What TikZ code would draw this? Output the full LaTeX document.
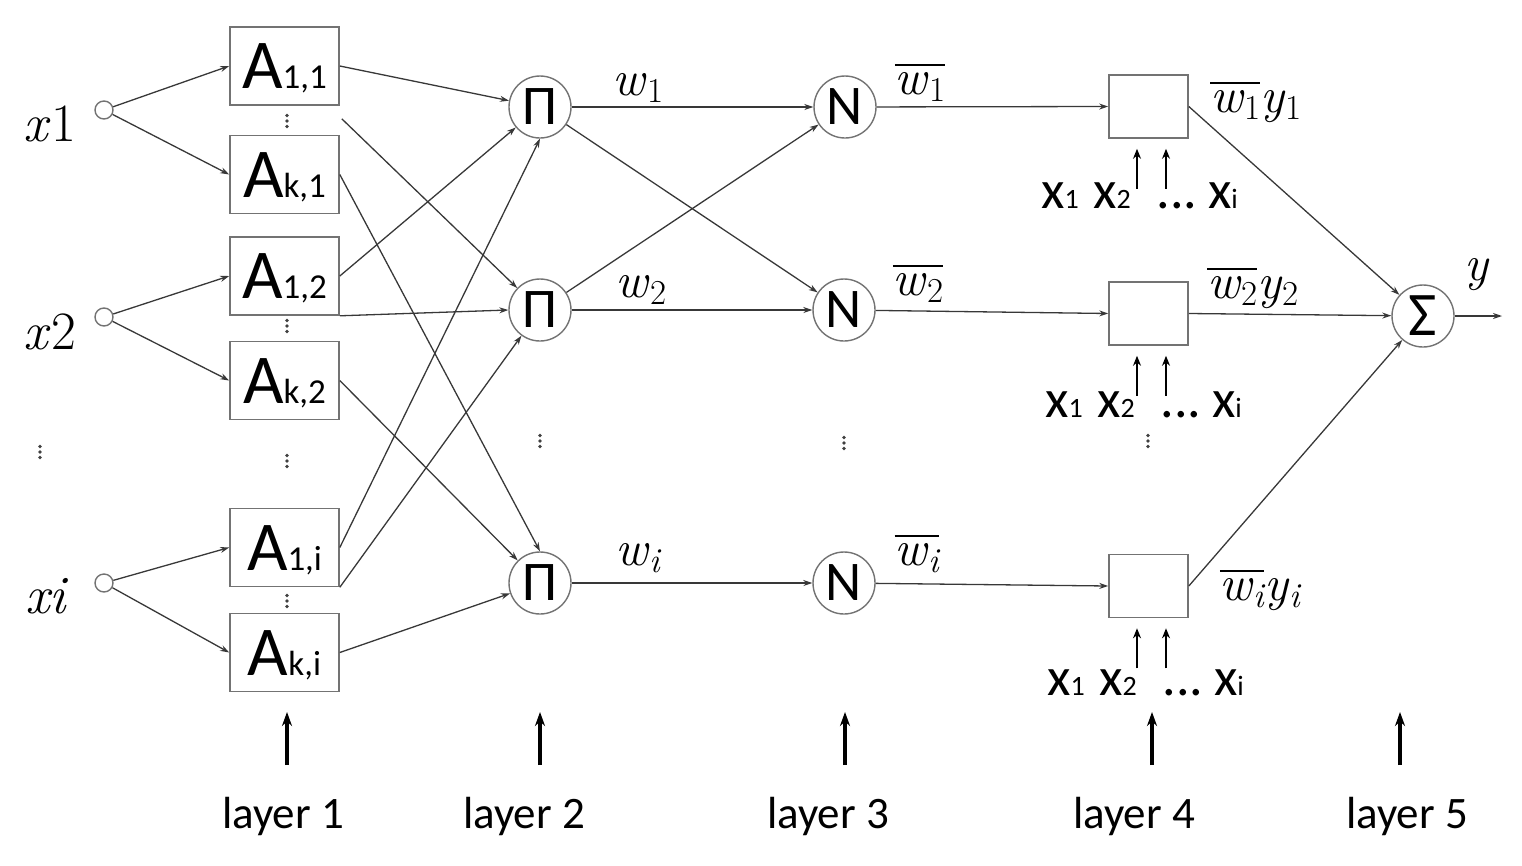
\documentclass[tikz,border=0pt]{standalone}
\usepackage{fontspec}
\newfontfamily\calfont{Carlito}
\usetikzlibrary{arrows.meta,calc}
\newcommand\Asub[1]{A{\fontsize{35}{35}\selectfont #1}}
\newcommand\xsub[1]{x{\fontsize{28}{28}\selectfont #1}}
\newcommand\lsub[1]{\raisebox{-7pt}{\fontsize{35}{35}\selectfont #1}}
\newcommand\ovl[1]{\leavevmode\setbox0\hbox{#1}\rlap{\raisebox{\dimexpr\ht0+6pt\relax}{\rule{\wd0}{2pt}}}\box0}
\begin{document}
\begin{tikzpicture}[x=1pt,y=-1pt,
  conn/.style={draw=black!78, line width=1.3pt, -{Stealth[length=9pt,width=6pt]}},
  abox/.style={draw=black!55, line width=1.6pt, minimum width=109pt, minimum height=78pt,
    inner sep=0pt, text height=45pt, text depth=0pt, font=\calfont\fontsize{70}{70}\selectfont},
  lbox/.style={draw=black!55, line width=1.6pt, minimum width=79pt, minimum height=63pt, inner sep=0pt},
  opnode/.style={circle, draw=black!55, line width=1.4pt, minimum size=62pt, inner sep=0pt,
    text depth=0pt, font=\calfont\fontsize{56}{56}\selectfont},
  incirc/.style={circle, draw=black!55, line width=1.4pt, minimum size=18pt, inner sep=0pt},
  mlab/.style={font=\fontsize{50}{50}\selectfont, inner sep=0pt, anchor=base},
  inlab/.style={font=\fontsize{54}{54}\selectfont, inner sep=0pt, anchor=base},
  xlab/.style={font=\calfont\fontsize{54}{54}\selectfont, inner sep=0pt, anchor=base},
  laylab/.style={font=\calfont\fontsize{45}{45}\selectfont, inner sep=0pt, anchor=base},
  uparr/.style={draw=black, line width=2.8pt, -{Stealth[length=10pt,width=8pt]}},
  layarr/.style={draw=black, line width=3.2pt, -{Stealth[length=14pt,width=10pt]}},
  vdots3/.pic={\fill[black!75] (0,-5.5) circle (1.8pt) (0,0) circle (1.8pt) (0,5.5) circle (1.8pt);}
]
\useasboundingbox (0,0) rectangle (1522,865);

% inputs
\node[incirc] (c1) at (104,110) {};
\node[incirc] (c2) at (104,317) {};
\node[incirc] (ci) at (104,583) {};
\node[inlab] (lx1) at (50,141) {\textit{x}1};
\node[inlab] (lx2) at (50,349) {\textit{x}2};
\node[inlab] (lxi) at (47,613) {\textit{xi}};

% layer 1
\node[abox] (A11) at (284.5,66) {\Asub{1,1}};
\node[abox] (Ak1) at (284.5,174.5) {\Asub{k,1}};
\node[abox] (A12) at (284.5,276) {\Asub{1,2}};
\node[abox] (Ak2) at (284.5,380.5) {\Asub{k,2}};
\node[abox] (A1i) at (284.5,547.5) {\Asub{1,i}};
\node[abox] (Aki) at (284.5,652.5) {\Asub{k,i}};

% layer 2 and 3
\node[opnode] (P1) at (540,107) {Π};
\node[opnode] (P2) at (540,310) {Π};
\node[opnode] (P3) at (540,583) {Π};
\node[opnode] (N1) at (845,107) {N};
\node[opnode] (N2) at (844,310) {N};
\node[opnode] (N3) at (844,583) {N};

% layer 4 and 5
\node[lbox] (B1) at (1148.5,106.5) {};
\node[lbox] (B2) at (1148.5,313.5) {};
\node[lbox] (B3) at (1148.5,586) {};
\node[opnode, font=\calfont\fontsize{62}{62}\selectfont] (S) at (1423,316) {Σ};
\coordinate (yout) at (1502,316);

% dots
\pic at (287,121) {vdots3};
\pic at (287,326) {vdots3};
\pic at (287,601) {vdots3};
\pic at (287,461) {vdots3};
\pic at (40,452) {vdots3};
\pic at (540,441) {vdots3};
\pic at (844,443) {vdots3};
\pic at (1148,441) {vdots3};

% input -> layer 1
\draw[conn] (c1) -- (A11.west);
\draw[conn] (c1) -- (Ak1.west);
\draw[conn] (c2) -- (A12.west);
\draw[conn] (c2) -- (Ak2.west);
\draw[conn] (ci) -- (A1i.west);
\draw[conn] (ci) -- (Aki.west);

% layer 1 -> layer 2
\draw[conn] (A11.east) -- (P1);
\draw[conn] ($(A11.south east)+(2,13)$) -- (P2);
\draw[conn] (Ak1.east) -- (P3.north);
\draw[conn] (A12.east) -- (P1);
\draw[conn] (A12.south east) -- (P2.west);
\draw[conn] (Ak2.east) -- (P3);
\draw[conn] (A1i.east) -- (P1.south);
\draw[conn] (A1i.south east) -- (P2);
\draw[conn] (Aki.east) -- (P3);

% layer 2 -> layer 3
\draw[conn] (P1) -- (N1);
\draw[conn] (P1) -- (N2);
\draw[conn] (P2) -- (N1);
\draw[conn] (P2) -- (N2);
\draw[conn] (P3) -- (N3);

% layer 3 -> layer 4
\draw[conn] (N1) -- (B1.west);
\draw[conn] (N2) -- (B2.west);
\draw[conn] (N3) -- (B3.west);

% layer 4 -> layer 5
\draw[conn] (B1.east) -- (S);
\draw[conn] (B2.east) -- (S);
\draw[conn] (B3.east) -- (S);
\draw[conn] (S) -- (yout);

% math labels
\node[mlab] (w1) at (638,95) {\textit{w}\lsub{1}};
\node[mlab] (w2) at (641,297) {\textit{w}\lsub{2}};
\node[mlab] (wi) at (638,565) {\textit{w}\lsub{\itshape i}};
\node[mlab] (nw1) at (920,94) {\ovl{\textit{w}\lsub{1}}};
\node[mlab] (nw2) at (918,295) {\ovl{\textit{w}\lsub{2}}};
\node[mlab] (nwi) at (917,565) {\ovl{\textit{w}\lsub{\itshape i}}};
\node[mlab] (o1) at (1256,112) {\ovl{\textit{w}\lsub{1}}\textit{y}\lsub{1}};
\node[mlab] (o2) at (1253,298) {\ovl{\textit{w}\lsub{2}}\textit{y}\lsub{2}};
\node[mlab] (oi) at (1260,600) {\ovl{\textit{w}\lsub{\itshape i}}\textit{y}\lsub{\itshape i}};
\node[mlab] (yl) at (1477,280) {\textit{y}};

% x inputs of layer 4
\foreach \r/\b/\yb/\dx in {1/B1/208/-6, 2/B2/417/-2, 3/B3/695/0}{
  \node[xlab] (xa\r) at (1066+\dx,\yb) {\xsub{1}};
  \node[xlab] (xb\r) at (1118+\dx,\yb) {\xsub{2}};
  \node[xlab] (xc\r) at (1183+\dx,\yb) {...};
  \node[xlab] (xd\r) at (1229+\dx,\yb) {\xsub{i}};
  \draw[uparr] ($(\b.south)+(-11.5,50)$) -- ($(\b.south)+(-11.5,10)$);
  \draw[uparr] ($(\b.south)+(17.5,50)$) -- ($(\b.south)+(17.5,10)$);
}

% layer arrows and labels
\foreach \i/\ax/\lx in {1/287/283, 2/540/524, 3/845/828, 4/1152/1134, 5/1400/1407}{
  \coordinate (lb\i) at (\ax,765);
  \coordinate (lt\i) at (\ax,712);
  \draw[layarr] (lb\i) -- (lt\i);
  \node[laylab] (layer\i) at (\lx,828) {layer \i};
}
\end{tikzpicture}
\end{document}
